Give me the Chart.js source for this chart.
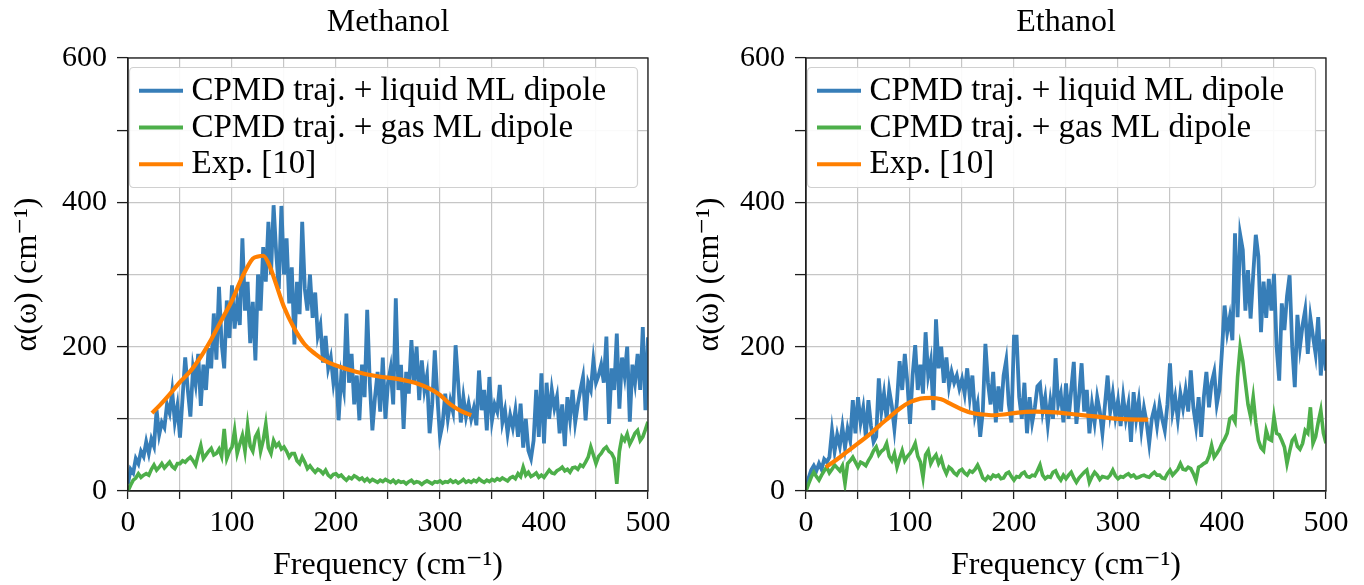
<!DOCTYPE html>
<html><head><meta charset="utf-8">
<script src="https://cdn.jsdelivr.net/npm/chart.js@4.4.1/dist/chart.umd.min.js"></script>
<style>
html,body{margin:0;padding:0;background:#fff;}
#wrap{position:relative;width:1364px;height:585px;overflow:hidden;background:#fff;}
.panel{position:absolute;top:0;width:682px;height:585px;}
canvas{display:block;}
</style></head><body>
<div id="wrap">
<div class="panel" style="left:0"><canvas id="c1" width="682" height="585"></canvas></div>
<div class="panel" style="left:682px"><canvas id="c2" width="682" height="585"></canvas></div>
</div>
<script>
// ---------- data ----------
const FREQ_STEP = 2.5;           // cm^-1 sampling of the simulated spectra (0..500)
const FREQ = Array.from({length: 201}, (_, i) => i * FREQ_STEP);

const TITLES = ['Methanol', 'Ethanol'];
const SERIES_LABELS = ['CPMD traj. + liquid ML dipole', 'CPMD traj. + gas ML dipole', 'Exp. [10]'];
const X_TICKS = [0, 100, 200, 300, 400, 500];
const Y_TICKS = [0, 200, 400, 600];

const methanolLiquid = [
  10,30,25,45,38,55,48,68,52,72,
  62,112,78,95,88,120,108,138,96,118,
  74,130,185,140,103,170,148,190,118,175,
  140,198,170,246,182,283,205,170,264,212,
  285,225,262,230,350,250,290,205,262,181,
  300,250,338,290,373,300,396,330,280,395,
  300,350,260,310,203,290,245,373,280,250,
  300,240,275,215,230,178,215,170,185,150,
  176,98,160,140,246,150,190,120,160,98,
  175,130,251,150,84,130,165,110,185,100,
  150,170,120,267,140,175,86,165,135,209,
  150,200,126,181,140,160,80,120,195,130,
  75,93,135,100,125,110,202,150,95,130,
  103,121,100,115,91,167,112,140,84,158,
  98,120,110,147,95,112,80,105,88,112,
  75,121,60,100,56,45,70,140,75,163,
  66,150,100,140,115,131,80,120,62,130,
  100,140,95,120,140,158,98,150,140,181,
  150,160,175,150,214,93,170,140,218,114,
  185,160,200,96,175,150,190,140,227,112,
  213
];
const methanolGas = [
  0,8,15,18,24,19,22,24,22,30,
  36,29,33,38,32,36,40,34,31,38,
  38,42,40,44,47,42,36,50,63,45,
  50,55,59,50,52,58,48,86,45,55,
  61,84,52,65,77,55,91,62,55,75,
  82,55,70,93,60,52,70,62,66,58,
  61,55,47,52,52,42,38,47,40,31,
  35,30,26,30,28,24,29,22,19,23,
  24,20,22,18,15,19,17,21,19,16,
  18,14,17,13,16,14,12,15,13,16,
  14,12,15,11,14,12,13,10,13,15,
  11,13,12,9,12,14,12,10,13,12,
  14,11,13,12,15,12,14,11,13,16,
  12,14,12,15,13,17,14,12,15,13,
  16,14,17,15,18,16,14,18,20,17,
  24,20,33,22,26,20,22,25,19,22,
  19,24,29,25,24,28,30,33,28,30,
  26,32,33,30,36,34,40,47,61,50,
  38,48,52,58,61,55,52,45,10,55,
  75,70,79,65,72,80,84,70,75,85,
  96
];
const methanolExpFreq = [23,30,40,50,60,70,80,90,100,110,120,125,130,135,140,150,160,170,180,190,200,220,240,260,270,280,290,300,310,320,330];
const methanolExp     = [108,118,134,151,166,186,210,237,264,297,322,325,326,316,297,255,225,203,190,180,174,165,159,155,152,148,142,133,120,111,105];

const ethanolLiquid = [
  3,18,29,35,28,38,30,44,40,47,
  84,55,78,62,89,60,86,70,126,80,
  130,95,115,75,126,90,68,75,156,110,
  135,100,140,118,86,125,180,140,190,150,
  93,160,202,140,175,135,220,160,180,112,
  238,170,200,150,185,145,165,150,160,142,
  155,135,170,130,160,105,121,75,110,204,
  150,120,165,95,145,110,160,181,120,95,
  214,214,130,100,150,80,130,95,115,145,
  149,110,130,92,125,100,184,120,135,95,
  149,100,140,179,93,130,177,110,140,80,
  120,95,130,110,80,120,160,110,135,103,
  125,90,130,100,120,68,137,100,125,85,
  115,95,66,100,115,90,120,100,84,120,
  177,110,130,100,135,115,140,110,167,115,
  90,130,75,130,165,116,150,165,120,140,
  195,257,220,241,209,357,241,355,334,250,
  306,239,300,355,325,220,290,240,294,250,
  301,200,153,260,223,270,299,200,144,244,
  200,230,251,190,240,214,190,241,160,210,
  167
];
const ethanolGas = [
  0,10,19,26,20,15,22,28,33,25,
  30,36,32,28,35,10,38,42,47,40,
  33,40,38,35,42,48,56,61,50,55,
  58,66,48,42,52,33,45,56,42,48,
  52,58,66,48,40,19,50,56,38,45,
  50,38,45,32,24,33,30,25,22,28,
  30,25,22,28,26,30,36,28,18,15,
  20,17,22,20,22,17,18,24,26,20,
  15,20,19,24,26,20,19,22,21,28,
  36,22,17,20,19,26,28,20,15,22,
  17,22,26,18,12,18,22,26,29,12,
  20,26,22,16,20,19,18,22,29,21,
  17,20,19,22,24,20,22,18,19,21,
  22,20,19,23,26,22,22,18,17,24,
  29,22,26,30,38,30,29,33,31,24,
  15,33,35,38,40,48,63,47,52,58,
  66,72,80,100,103,96,158,200,180,150,
  120,103,130,95,70,60,56,84,72,70,
  103,80,78,70,61,38,55,70,75,62,
  58,66,84,80,116,66,75,95,112,80,
  66
];
const ethanolExpFreq = [19,30,40,50,60,70,80,90,100,110,120,130,140,150,160,170,180,190,200,220,240,260,280,300,320,329];
const ethanolExp     = [33,44,55,66,77,90,102,114,123,128,129,127,120,113,108,106,105,106,108,110,109,106,103,100,99,99];

// ---------- style ----------
const SERIF = '"Liberation Serif", "DejaVu Serif", serif';
const BLUE = '#377eb8', GREEN = '#4daf4a', ORANGE = '#ff7f00';
const GRID = '#c6c6c6', SPINE = '#1e1e1e';

const framePlugin = {
  id: 'frameSpines',
  afterDatasetsDraw(chart) {
    const {ctx, chartArea: a} = chart;
    ctx.save();
    ctx.strokeStyle = SPINE;
    ctx.lineWidth = 1.3;
    ctx.strokeRect(a.left, a.top, a.right - a.left, a.bottom - a.top);
    ctx.restore();
  }
};

const boxLegend = {
  id: 'boxLegend',
  afterDatasetsDraw(chart) {
    const {ctx, chartArea: a} = chart;
    const x0 = a.left + 1.5, y0 = a.top + 9.5, w = 508, h = 120, r = 4;
    ctx.save();
    ctx.beginPath();
    ctx.moveTo(x0 + r, y0);
    ctx.lineTo(x0 + w - r, y0); ctx.arcTo(x0 + w, y0, x0 + w, y0 + r, r);
    ctx.lineTo(x0 + w, y0 + h - r); ctx.arcTo(x0 + w, y0 + h, x0 + w - r, y0 + h, r);
    ctx.lineTo(x0 + r, y0 + h); ctx.arcTo(x0, y0 + h, x0, y0 + h - r, r);
    ctx.lineTo(x0, y0 + r); ctx.arcTo(x0, y0, x0 + r, y0, r);
    ctx.closePath();
    ctx.fillStyle = 'rgba(255,255,255,0.9)';
    ctx.fill();
    ctx.strokeStyle = '#d0d0d0';
    ctx.lineWidth = 1.2;
    ctx.stroke();
    chart.data.datasets.forEach((ds, i) => {
      const cy = a.top + 32.7 + i * 36.8;
      ctx.strokeStyle = ds.borderColor;
      ctx.lineWidth = 4;
      ctx.lineCap = 'butt';
      ctx.beginPath();
      ctx.moveTo(a.left + 11, cy);
      ctx.lineTo(a.left + 55, cy);
      ctx.stroke();
      ctx.fillStyle = '#000';
      ctx.font = '33px ' + SERIF;
      ctx.textAlign = 'left';
      ctx.textBaseline = 'alphabetic';
      ctx.fillText(ds.label, a.left + 63.5, cy + 9);
    });
    ctx.restore();
  }
};

function makeChart(id, title, liquid, gas, expFreq, exp, yAxisWidth, padRight) {
  return new Chart(document.getElementById(id), {
    type: 'line',
    data: {
      datasets: [
        {label: SERIES_LABELS[0], data: FREQ.map((f, i) => ({x: f, y: liquid[i]})),
         borderColor: BLUE, borderWidth: 3.8, pointRadius: 0, tension: 0, order: 3},
        {label: SERIES_LABELS[1], data: FREQ.map((f, i) => ({x: f, y: gas[i]})),
         borderColor: GREEN, borderWidth: 3.6, pointRadius: 0, tension: 0, order: 2},
        {label: SERIES_LABELS[2], data: expFreq.map((f, i) => ({x: f, y: exp[i]})),
         borderColor: ORANGE, borderWidth: 4.2, pointRadius: 0, cubicInterpolationMode: 'monotone', order: 1}
      ]
    },
    options: {
      responsive: false,
      animation: false,
      devicePixelRatio: 1,
      layout: {padding: {left: 0, right: padRight, top: 0, bottom: 0}},
      plugins: {
        legend: {display: false},
        tooltip: {enabled: false},
        title: {display: true, text: title, fullSize: false, color: '#000',
                font: {family: SERIF, size: 32, weight: 'normal'}, padding: {top: 3, bottom: 16.6}}
      },
      scales: {
        x: {
          type: 'linear', min: 0, max: 500,
          afterFit: s => { s.height = 94; },
          afterBuildTicks: s => { s.ticks = [0,50,100,150,200,250,300,350,400,450,500].map(v => ({value: v})); },
          ticks: {autoSkip: false, maxRotation: 0, minRotation: 0, padding: 6, color: '#000',
                  font: {family: SERIF, size: 30},
                  callback: v => X_TICKS.includes(v) ? String(v) : ''},
          grid: {color: GRID, lineWidth: 1.2, tickColor: SPINE, tickLength: 8, tickWidth: 1.3},
          border: {display: true, color: SPINE, width: 1.3},
          title: {display: true, text: 'Frequency (cm⁻¹)', color: '#000',
                  font: {family: SERIF, size: 32}, padding: {top: 0, bottom: 0}}
        },
        y: {
          type: 'linear', min: 0, max: 600,
          afterFit: s => { s.width = yAxisWidth; },
          afterBuildTicks: s => { s.ticks = [0,100,200,300,400,500,600].map(v => ({value: v})); },
          ticks: {padding: 10, color: '#000', font: {family: SERIF, size: 30},
                  callback: v => Y_TICKS.includes(v) ? String(v) : ''},
          grid: {color: GRID, lineWidth: 1.2, tickColor: SPINE, tickLength: 11, tickWidth: 1.3},
          border: {display: true, color: SPINE, width: 1.3},
          title: {display: true, text: 'α(ω) (cm⁻¹)', color: '#000',
                  font: {family: SERIF, size: 32}, padding: {top: 8, bottom: 0}}
        }
      }
    },
    plugins: [boxLegend, framePlugin]
  });
}

makeChart('c1', TITLES[0], methanolLiquid, methanolGas, methanolExpFreq, methanolExp, 128, 34);
makeChart('c2', TITLES[1], ethanolLiquid, ethanolGas, ethanolExpFreq, ethanolExp, 124, 38);
</script>
</body></html>
